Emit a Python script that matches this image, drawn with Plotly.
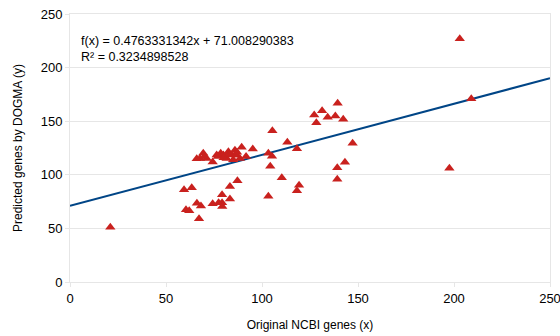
import plotly.graph_objects as go

ncbi_genes = [21, 59.4, 63.4, 60.4, 62.1, 66.1, 68.2, 67.2, 74.3, 77.4, 79.2, 79.3, 79.2, 83.3, 83.3, 87.2,
              67.7, 69.4, 71.2, 74.3, 76.4, 78.5, 79.9, 82.5, 81.6, 84.2, 85.9, 86.8, 89.4, 88.5, 91.7, 95.2,
              77, 80, 83, 85, 70, 66, 87,
              103.3, 105.2, 105.4, 104.3, 103.3, 110.3, 113.2, 118.2, 119.3, 118.2,
              127.2, 131.3, 134.2, 138.2, 139.4, 142.3, 128.3, 147.2, 143.2, 139.2, 139.2,
              197.6, 203, 209]
dogma_genes = [51, 86, 88, 67.5, 66.5, 73.5, 71, 59, 73, 74, 74, 70.5, 81.5, 89, 77.5, 94.5,
               115.3, 120, 115.3, 112, 118.5, 120, 118.5, 121.5, 115.3, 118.5, 123, 118.5, 125.6, 115.3, 117, 124,
               117, 116, 119, 114, 117, 115, 121,
               120, 117.3, 141, 108, 80, 97.3, 130.3, 124.3, 90.2, 85.2,
               155.8, 159.8, 153.6, 154.9, 166.7, 151.8, 148.6, 129.4, 111.7, 106.6, 95.8,
               106, 227, 171]

slope = 0.4763331342
intercept = 71.008290383
r_squared = 0.3234898528
line_x = [0, 250]
line_y = [slope * v + intercept for v in line_x]

tick_vals = [0, 50, 100, 150, 200, 250]

font_family = "Liberation Sans, Arial, sans-serif"

fig = go.Figure()
fig.add_trace(go.Scatter(
    x=line_x, y=line_y, mode="lines",
    line=dict(color="#004586", width=2), hoverinfo="skip", showlegend=False))
fig.add_trace(go.Scatter(
    x=ncbi_genes, y=dogma_genes, mode="markers",
    marker=dict(symbol="triangle-up", size=9, color="#c9211e", line=dict(width=0)),
    showlegend=False))

fig.add_annotation(
    xref="x", yref="y", x=4.5, y=217, xanchor="left", yanchor="middle", align="left",
    showarrow=False,
    text=f"f(x) = {slope}x + {intercept}<br>R² = {r_squared}",
    font=dict(family=font_family, size=12.5, color="#000000"))

axis_common = dict(
    range=[0, 250], tickvals=tick_vals, showline=True, mirror=True, automargin=False,
    linecolor="#e6e6e6", linewidth=1, gridcolor="#e6e6e6", gridwidth=1,
    ticks="outside", ticklen=4, tickcolor="#e6e6e6", zeroline=False,
    ticklabeloverflow="allow",
    tickfont=dict(family=font_family, size=13, color="#000000"),
)

fig.update_layout(
    width=560, height=336,
    margin=dict(l=70, r=10, t=14, b=54),
    plot_bgcolor="white", paper_bgcolor="white",
    font=dict(family=font_family),
    xaxis=dict(**axis_common, showgrid=False,
               title=dict(text="Original NCBI genes (x)", standoff=16,
                          font=dict(family=font_family, size=12, color="#000000"))),
    yaxis=dict(**axis_common, showgrid=True,
               title=dict(text="Predicted genes by DOGMA (y)", standoff=15,
                          font=dict(family=font_family, size=12, color="#000000"))),
)

fig.write_html("out.html", config={"displayModeBar": False},
               post_script="document.body.style.margin='0';document.body.style.overflow='hidden';")
